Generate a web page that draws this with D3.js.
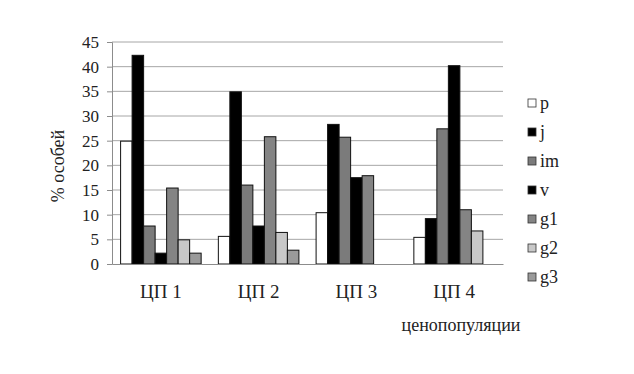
<!DOCTYPE html>
<html>
<head>
<meta charset="utf-8">
<script src="https://cdn.jsdelivr.net/npm/d3@7"></script>
<style>
  body { margin: 0; background: #fff; }
  svg text { font-family: "Liberation Serif", serif !important; fill: #222; }
</style>
</head>
<body>
<div id="chart"></div>
<script>
// data
const groups = ["ЦП 1", "ЦП 2", "ЦП 3", "ЦП 4"];
const series = ["p", "j", "im", "v", "g1", "g2", "g3"];
const p = [24.9, 5.6, 10.4, 5.4];
const j = [42.3, 34.9, 28.3, 9.2];
const im = [7.7, 16.0, 25.7, 27.4];
const v = [2.2, 7.7, 17.5, 40.2];
const g1 = [15.4, 25.8, 17.9, 11.0];
const g2 = [4.9, 6.4, 0, 6.7];
const g3 = [2.2, 2.8, 0, 0];
const yTicks = [0, 5, 10, 15, 20, 25, 30, 35, 40, 45];

const values = { p, j, im, v, g1, g2, g3 };
const colors = {
  p: "#ffffff", j: "#000000", im: "#7b7b7b", v: "#000000",
  g1: "#848484", g2: "#c8c8c8", g3: "#9a9a9a"
};

// set the dimensions and margins of the graph
const margin = { top: 42, right: 131, bottom: 110, left: 112 },
  width = 634 - margin.left - margin.right,
  height = 374 - margin.top - margin.bottom;

const svg = d3
  .select("#chart")
  .append("svg")
  .attr("width", 634)
  .attr("height", 374);

const g = svg.append("g")
  .attr("transform", `translate(${margin.left},${margin.top})`);

const x0 = d3.scaleBand().domain(groups).range([0, width]).paddingInner(0).paddingOuter(0);
const x1 = d3.scaleBand().domain(series).range([8.6, x0.bandwidth() - 8.6]);
const y = d3.scaleLinear().domain([0, 45]).range([height, 0]);

// gridlines
g.append("g")
  .selectAll("line")
  .data(yTicks.filter((d) => d > 0))
  .join("line")
  .attr("x1", 0)
  .attr("x2", width)
  .attr("y1", (d) => y(d))
  .attr("y2", (d) => y(d))
  .attr("stroke", "#a6a6a6")
  .attr("stroke-width", 1);

// Y axis
const yAxis = g.append("g")
  .call(d3.axisLeft(y).tickValues(yTicks).tickSize(5).tickPadding(8))
  .attr("font-family", null);
yAxis.select(".domain").attr("stroke", "#8c8c8c");
yAxis.selectAll(".tick line").attr("stroke", "#8c8c8c");
yAxis.selectAll("text")
  .style("font-size", "17px")
  .attr("fill", "#222");

// bars
const rows = groups.flatMap((gr, i) => series.map((s) => ({ group: gr, key: s, value: values[s][i] })));
g.append("g")
  .selectAll("rect")
  .data(rows.filter((d) => d.value > 0))
  .join("rect")
  .attr("x", (d) => x0(d.group) + x1(d.key))
  .attr("y", (d) => y(d.value))
  .attr("width", x1.bandwidth())
  .attr("height", (d) => height - y(d.value))
  .attr("fill", (d) => colors[d.key])
  .attr("stroke", "#111")
  .attr("stroke-width", 1);

// X axis
const xAxis = g.append("g")
  .attr("transform", `translate(0, ${height})`)
  .call(d3.axisBottom(x0).tickSize(0).tickPadding(21))
  .attr("font-family", null);
xAxis.select(".domain").attr("stroke", "#8c8c8c");
xAxis.selectAll("text")
  .style("font-size", "19px")
  .attr("fill", "#222");

// axis titles
svg.append("text")
  .attr("transform", "translate(64,166) rotate(-90)")
  .attr("text-anchor", "middle")
  .style("font-size", "18px")
  .text("% особей");

svg.append("text")
  .attr("x", 461)
  .attr("y", 331)
  .attr("text-anchor", "middle")
  .style("font-size", "18px")
  .text("ценопопуляции");

// legend
const legend = svg.append("g")
  .selectAll("g")
  .data(series)
  .join("g")
  .attr("transform", (d, i) => `translate(528, ${103 + i * 29})`);
legend.append("rect")
  .attr("x", 0)
  .attr("y", -4)
  .attr("width", 8)
  .attr("height", 8)
  .attr("fill", (d) => colors[d])
  .attr("stroke", "#333")
  .attr("stroke-width", 0.8);
legend.append("text")
  .attr("x", 12)
  .attr("y", 6)
  .style("font-size", "18px")
  .text((d) => d);
</script>
</body>
</html>
